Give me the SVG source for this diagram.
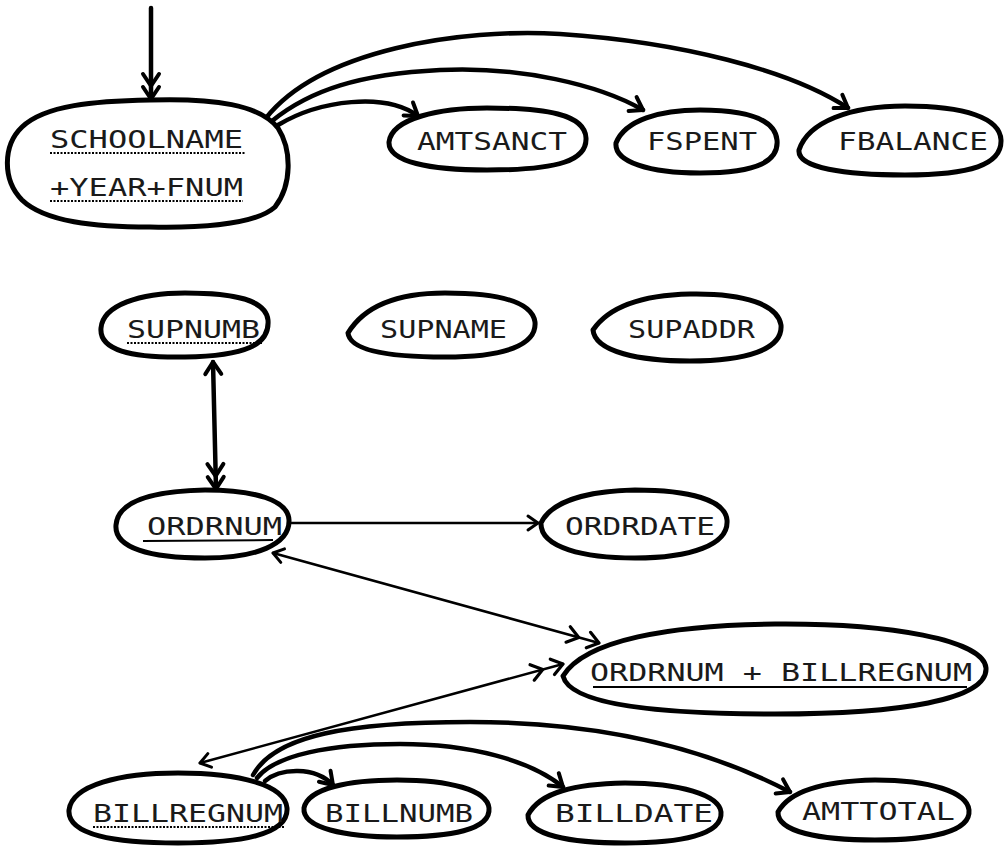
<svg xmlns="http://www.w3.org/2000/svg" width="1004" height="850" viewBox="0 0 1004 850">
  <style>
    .node { fill: #fff; stroke: #000; stroke-width: 5; stroke-linejoin: round; }
    .lbl { font-family: "DejaVu Sans Mono", "Liberation Mono", monospace; font-size: 25px; fill: #1a1a1a; }
    .dot { stroke: #000; stroke-width: 2; stroke-dasharray: 2 1.5; fill: none; }
    .uline { stroke: #000; stroke-width: 2; fill: none; }
    .edge { fill: none; stroke: #000; stroke-linecap: round; }
    .heavy { stroke-width: 4.5; }
    .thin { stroke-width: 2.6; }
  </style>
  <defs>
    <!-- open chevron heads: single and double, heavy and thin -->
    <marker id="h1" markerUnits="userSpaceOnUse" markerWidth="40" markerHeight="40" viewBox="-30 -20 40 40" refX="0" refY="0" orient="auto-start-reverse" overflow="visible">
      <path d="M-12,-8 L0,0 L-12,8" fill="none" stroke="#000" stroke-width="4" stroke-linecap="round" stroke-linejoin="round"/>
    </marker>
    <marker id="h2" markerUnits="userSpaceOnUse" markerWidth="40" markerHeight="40" viewBox="-30 -20 40 40" refX="0" refY="0" orient="auto" overflow="visible">
      <path d="M-12,-8 L0,0 L-12,8 M-25,-8 L-13,0 L-25,8" fill="none" stroke="#000" stroke-width="4" stroke-linecap="round" stroke-linejoin="round"/>
    </marker>
    <marker id="t1" markerUnits="userSpaceOnUse" markerWidth="40" markerHeight="40" viewBox="-30 -20 40 40" refX="0" refY="0" orient="auto-start-reverse" overflow="visible">
      <path d="M-10,-7 L0,0 L-10,7" fill="none" stroke="#000" stroke-width="3" stroke-linecap="round" stroke-linejoin="round"/>
    </marker>
    <marker id="t2" markerUnits="userSpaceOnUse" markerWidth="40" markerHeight="40" viewBox="-30 -20 40 40" refX="0" refY="0" orient="auto" overflow="visible">
      <path d="M-11,-8 L0,0 L-11,8 M-32,-8 L-21,0 L-32,8" fill="none" stroke="#000" stroke-width="3.2" stroke-linecap="round" stroke-linejoin="round"/>
    </marker>
  </defs>

  <g id="connectors">
    <line class="edge heavy" x1="151" y1="8" x2="151" y2="99" marker-end="url(#h2)"/>
    <path class="edge heavy" d="M266,118 C320,50 460,28 560,34 C680,42 790,70 848,108" marker-end="url(#h1)"/>
    <path class="edge heavy" d="M272,121 C310,90 360,74 440,70 C520,66 600,85 643,110" marker-end="url(#h1)"/>
    <path class="edge heavy" d="M278,125 C320,100 385,92 418,116" marker-end="url(#h1)"/>
    <line class="edge heavy" x1="213" y1="362" x2="216" y2="489" marker-start="url(#h1)" marker-end="url(#h2)"/>
    <line class="edge thin" x1="290" y1="523" x2="538" y2="523" marker-end="url(#t1)"/>
    <line class="edge thin" x1="273" y1="553" x2="599" y2="643" marker-start="url(#t1)" marker-end="url(#t2)"/>
    <line class="edge thin" x1="200" y1="763" x2="563" y2="664" marker-start="url(#t1)" marker-end="url(#t2)"/>
    <path class="edge heavy" d="M265,781 C280,768 315,766 333,785" marker-end="url(#h1)"/>
    <path class="edge heavy" d="M257,778 C275,755 330,744 400,744 C470,744 530,760 563,787" marker-end="url(#h1)"/>
    <path class="edge heavy" d="M253,775 C275,735 350,722 470,722 C590,722 700,745 790,792" marker-end="url(#h1)"/>
  </g>

  <g id="schoolname">
    <path class="node" d="M150,100 C215,98 260,105 278,128 C292,150 292,185 275,207 C255,225 200,228 150,227 C95,227 45,222 22,200 C2,180 3,145 22,127 C45,105 95,101 150,100 Z"/>
    <text class="lbl" x="50" y="148" textLength="193" lengthAdjust="spacingAndGlyphs">SCHOOLNAME</text>
    <line class="dot" x1="50" y1="153" x2="245" y2="153"/>
    <text class="lbl" x="50" y="196" textLength="193" lengthAdjust="spacingAndGlyphs">+YEAR+FNUM</text>
    <line class="dot" x1="50" y1="201" x2="243" y2="201"/>
  </g>
  <g id="amtsanct">
    <path class="node" d="M389,142 C392,118 440,108 487,108 C545,108 585,114 586,138 C587,160 560,170 487,170 C430,170 388,162 389,142 Z"/>
    <text class="lbl" x="417" y="150" textLength="150" lengthAdjust="spacingAndGlyphs">AMTSANCT</text>
  </g>
  <g id="fspent">
    <path class="node" d="M616,143 C625,120 660,110 700,110 C750,110 775,120 777,140 C779,160 760,173 700,173 C650,173 614,162 616,143 Z"/>
    <text class="lbl" x="647" y="150" textLength="110" lengthAdjust="spacingAndGlyphs">FSPENT</text>
  </g>
  <g id="fbalance">
    <path class="node" d="M799,150 C808,122 850,106 905,106 C965,106 1000,118 1001,140 C1002,165 970,175 905,175 C845,175 797,168 799,150 Z"/>
    <text class="lbl" x="838" y="150" textLength="150" lengthAdjust="spacingAndGlyphs">FBALANCE</text>
  </g>

  <g id="supnumb">
    <path class="node" d="M101,328 C103,305 140,293 185,293 C235,293 266,300 268,320 C270,345 245,356 185,357 C130,358 99,350 101,328 Z"/>
    <text class="lbl" x="127" y="338" textLength="133" lengthAdjust="spacingAndGlyphs">SUPNUMB</text>
    <line class="dot" x1="127" y1="343" x2="262" y2="343"/>
  </g>
  <g id="supname">
    <path class="node" d="M348,333 C365,305 400,293 445,293 C500,293 532,302 535,322 C537,345 505,357 445,357 C395,357 350,352 348,333 Z"/>
    <text class="lbl" x="380" y="338" textLength="127" lengthAdjust="spacingAndGlyphs">SUPNAME</text>
  </g>
  <g id="supaddr">
    <path class="node" d="M593,330 C610,305 645,295 690,294 C745,293 778,305 781,325 C783,350 745,361 690,361 C640,361 595,352 593,330 Z"/>
    <text class="lbl" x="628" y="338" textLength="127" lengthAdjust="spacingAndGlyphs">SUPADDR</text>
  </g>

  <g id="ordrnum">
    <path class="node" d="M116,525 C118,500 155,491 205,490 C255,490 288,500 289,520 C290,545 255,558 205,558 C150,558 114,548 116,525 Z"/>
    <text class="lbl" x="147" y="535" textLength="135" lengthAdjust="spacingAndGlyphs">ORDRNUM</text>
    <line class="uline" x1="143" y1="541" x2="273" y2="540"/>
  </g>
  <g id="ordrdate">
    <path class="node" d="M541,523 C552,500 590,491 635,490 C690,490 725,500 727,520 C729,545 690,558 635,558 C585,558 540,548 541,523 Z"/>
    <text class="lbl" x="565" y="535" textLength="150" lengthAdjust="spacingAndGlyphs">ORDRDATE</text>
  </g>

  <g id="ordrnum-billregnum">
    <path class="node" d="M563,676 C585,640 670,625 775,624 C890,623 984,640 986,668 C988,700 900,714 775,714 C660,714 570,705 563,676 Z"/>
    <text class="lbl" x="590" y="681" textLength="382" lengthAdjust="spacingAndGlyphs">ORDRNUM + BILLREGNUM</text>
    <line class="uline" x1="593" y1="687" x2="967" y2="687"/>
  </g>

  <g id="billregnum">
    <path class="node" d="M69,810 C72,785 120,773 178,773 C240,773 285,785 287,808 C289,835 240,843 178,843 C115,843 67,835 69,810 Z"/>
    <text class="lbl" x="93" y="822" textLength="190" lengthAdjust="spacingAndGlyphs">BILLREGNUM</text>
    <line class="dot" x1="93" y1="827" x2="285" y2="827"/>
  </g>
  <g id="billnumb">
    <path class="node" d="M304,808 C308,788 350,780 397,780 C450,780 487,790 489,808 C491,830 450,837 397,837 C345,837 302,828 304,808 Z"/>
    <text class="lbl" x="325" y="822" textLength="148" lengthAdjust="spacingAndGlyphs">BILLNUMB</text>
  </g>
  <g id="billdate">
    <path class="node" d="M528,815 C540,792 575,784 625,783 C680,783 719,795 721,812 C723,835 680,843 625,843 C570,843 527,835 528,815 Z"/>
    <text class="lbl" x="555" y="822" textLength="158" lengthAdjust="spacingAndGlyphs">BILLDATE</text>
  </g>
  <g id="amttotal">
    <path class="node" d="M778,812 C790,790 825,781 875,780 C930,780 967,792 969,810 C971,832 930,840 875,840 C820,840 777,832 778,812 Z"/>
    <text class="lbl" x="802" y="820" textLength="153" lengthAdjust="spacingAndGlyphs">AMTTOTAL</text>
  </g>
</svg>
